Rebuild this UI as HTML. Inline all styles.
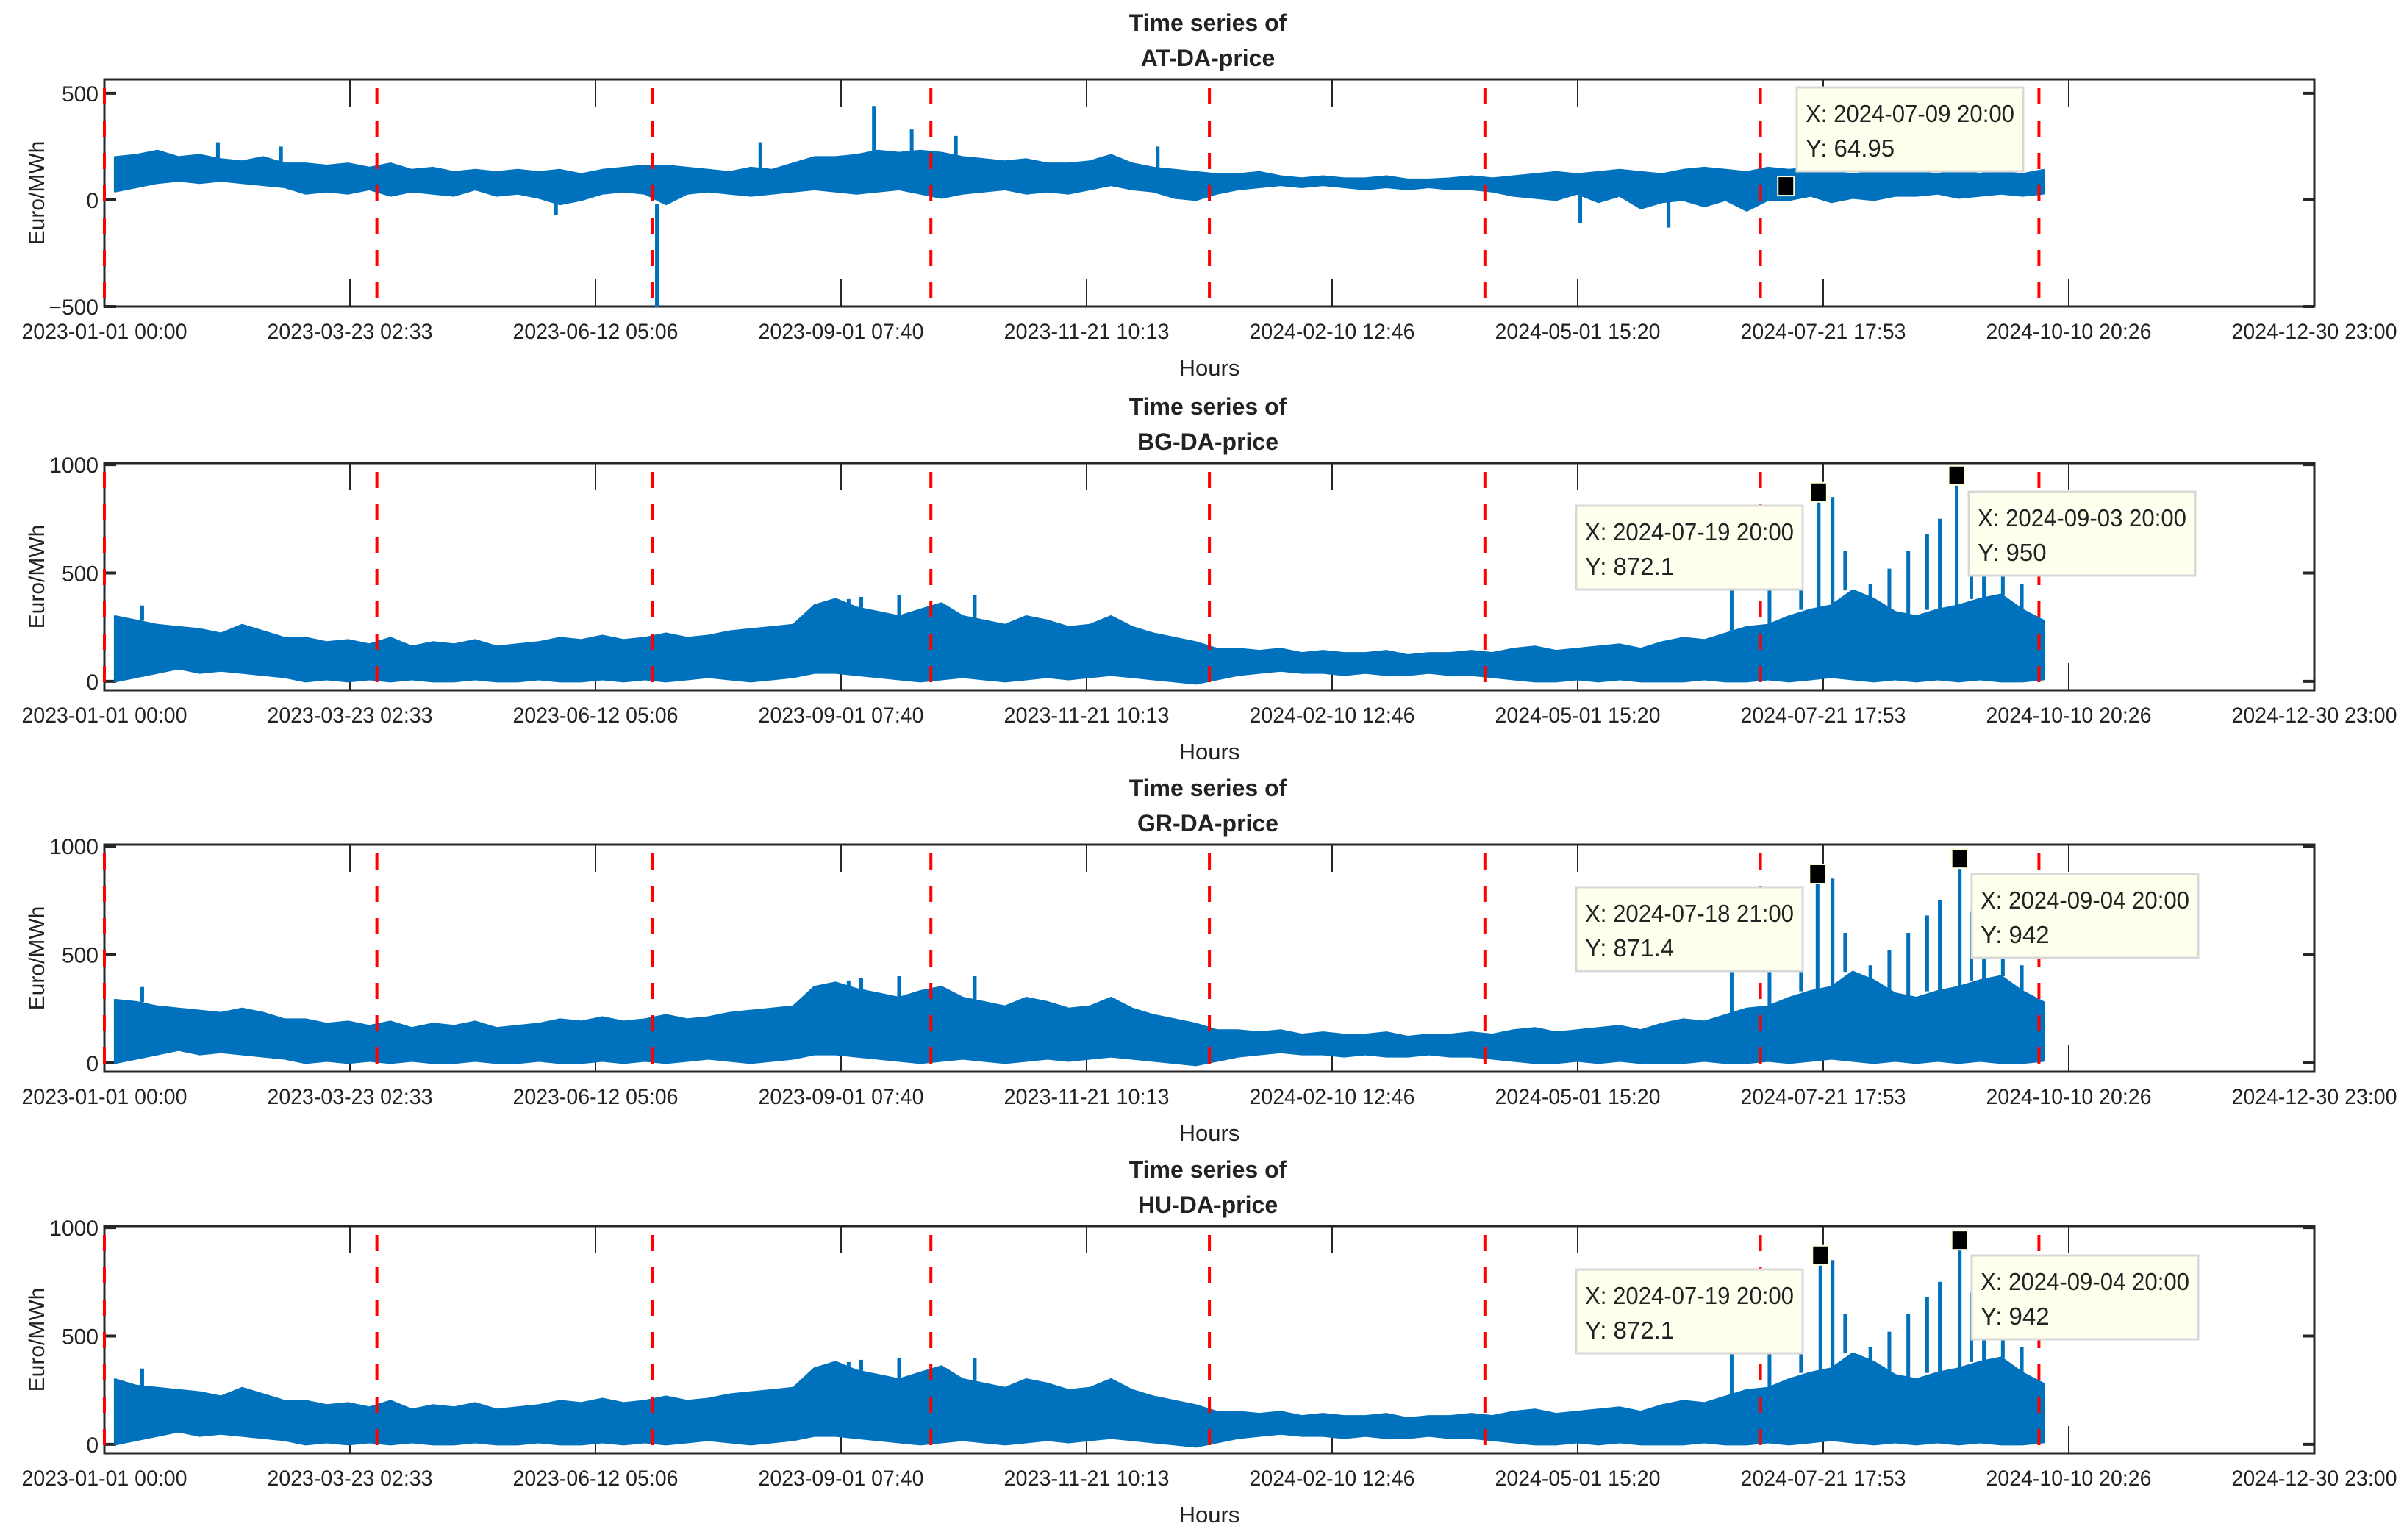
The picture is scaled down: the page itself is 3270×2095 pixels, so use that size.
<!DOCTYPE html>
<html><head><meta charset="utf-8"><style>
html,body{margin:0;padding:0;background:#fff}
svg{display:block}
text{font-family:"Liberation Sans",Arial,sans-serif;fill:#222}
</style></head><body>
<svg id="chart" width="3270" height="2095" viewBox="0 0 3270 2095" xmlns="http://www.w3.org/2000/svg"></svg>
<script>
// ---- data ----
const xTickLabels = ["2023-01-01 00:00","2023-03-23 02:33","2023-06-12 05:06","2023-09-01 07:40","2023-11-21 10:13","2024-02-10 12:46","2024-05-01 15:20","2024-07-21 17:53","2024-10-10 20:26","2024-12-30 23:00"];
const xMaxHours = 17519;
const quarterLines = [0,2160,4344,6552,8760,10944,13128,15336];
const weekHours = 168;
const panelNames = ["AT-DA-price","BG-DA-price","GR-DA-price","HU-DA-price"];
const yTicksAT = [-500,0,500];
const yTicksBG = [0,500,1000];
const AT_up = [200,210,230,200,210,190,180,200,170, 170,160,170,150,170,140,150,130,140, 130,140,130,140,120,140,150,160,160, 150,140,130,150,140,170,200,200,210, 230,220,230,220,200,190,180,190,170, 170,180,210,170,150,140,130,120, 120,130,110,100,110,100,100,110,95,95,100,110,100, 110,120,130,120,130,140,130,120,140,150,140,130,150, 140,150,130,120,130,140,130,120,140,120,130,120,140];
const AT_lo = [40,60,80,90,80,90,80,70,60, 30,40,30,50,20,40,30,20,50, 20,30,10,-20,0,30,40,30,-20, 30,40,30,20,30,40,50,40,30, 40,50,30,10,30,40,50,30,40, 30,50,70,50,40,10,0,30, 50,60,70,60,70,60,50,60,50,60,50,50,40, 20,10,0,30,-10,20,-40,-10,0,-30,0,-50,0, 0,20,-10,10,0,20,20,30,10,20,30,20,30];
const AT_spikeT = [900,1400,4380,3580,5200,6100,6400,6750,8350,11700,12400,14900];
const AT_spikeV = [270,250,-500,-70,270,440,330,300,250,-110,-130,200];
const BG_up = [300,280,260,250,240,220,260,230,200, 200,180,190,170,200,160,180,170,190, 160,170,180,200,190,210,190,200,220, 200,210,230,240,250,260,350,380,340, 320,300,330,360,300,280,260,300,280, 250,260,300,250,220,200,180,150, 150,140,150,130,140,130,130,140,120,130,130,140,130, 150,160,140,150,160,170,150,180,200,190,220,250,260, 300,330,350,420,380,320,300,330,350,380,400,330,280];
const BG_lo = [0,20,40,60,40,50,40,30,20, 0,10,0,10,0,10,0,0,10, 0,0,10,0,0,10,0,10,0, 10,20,10,0,10,20,40,40,30, 20,10,0,10,20,10,0,10,20, 10,20,30,20,10,0,-10,10, 30,40,50,40,40,30,40,30,30,40,30,30,20, 10,0,0,10,0,10,0,0,0,10,0,0,10, 0,10,20,10,0,10,0,10,0,10,0,0,10];
const BG_spikeT = [13590,14684,12900,13200,13450,13700,13800,14000,14150,14300,14450,14550,14800,14900,15050,15200,6000,6900,300,5900,6300];
const BG_spikeV = [872.1,950,420,500,650,850,600,450,520,600,680,750,700,560,500,450,390,400,350,380,400];
const GR_up = [290,280,260,250,240,230,250,230,200, 200,180,190,170,190,160,180,170,190, 160,170,180,200,190,210,190,200,220, 200,210,230,240,250,260,350,370,340, 320,300,330,350,300,280,260,300,280, 250,260,300,250,220,200,180,150, 150,140,150,130,140,130,130,140,120,130,130,140,130, 150,160,140,150,160,170,150,180,200,190,220,250,260, 300,330,350,420,380,320,300,330,350,380,400,330,280];
const GR_lo = [0,20,40,60,40,50,40,30,20, 0,10,0,10,0,10,0,0,10, 0,0,10,0,0,10,0,10,0, 10,20,10,0,10,20,40,40,30, 20,10,0,10,20,10,0,10,20, 10,20,30,20,10,0,-10,10, 30,40,50,40,40,30,40,30,30,40,30,30,20, 10,0,0,10,0,10,0,0,0,10,0,0,10, 0,10,20,10,0,10,0,10,0,10,0,0,10];
const GR_spikeT = [13581,14708,12900,13200,13450,13700,13800,14000,14150,14300,14450,14550,14800,14900,15050,15200,6000,6900,300,5900,6300];
const GR_spikeV = [871.4,942,420,500,650,850,600,450,520,600,680,750,700,560,500,450,390,400,350,380,400];
const HU_up = [300,270,260,250,240,220,260,230,200, 200,180,190,170,200,160,180,170,190, 160,170,180,200,190,210,190,200,220, 200,210,230,240,250,260,350,380,340, 320,300,330,360,300,280,260,300,280, 250,260,300,250,220,200,180,150, 150,140,150,130,140,130,130,140,120,130,130,140,130, 150,160,140,150,160,170,150,180,200,190,220,250,260, 300,330,350,420,380,320,300,330,350,380,400,330,280];
const HU_lo = [0,20,40,60,40,50,40,30,20, 0,10,0,10,0,10,0,0,10, 0,0,10,0,0,10,0,10,0, 10,20,10,0,10,20,40,40,30, 20,10,0,10,20,10,0,10,20, 10,20,30,20,10,0,-10,10, 30,40,50,40,40,30,40,30,30,40,30,30,20, 10,0,0,10,0,10,0,0,0,10,0,0,10, 0,10,20,10,0,10,0,10,0,10,0,0,10];
const HU_spikeT = [13604,14708,12900,13200,13450,13700,13800,14000,14150,14300,14450,14550,14800,14900,15050,15200,6000,6900,300,5900,6300];
const HU_spikeV = [872.1,942,420,500,650,850,600,450,520,600,680,750,700,560,500,450,390,400,350,380,400];
const tipLabelsX = [["X: 2024-07-09 20:00"],["X: 2024-07-19 20:00","X: 2024-09-03 20:00"],["X: 2024-07-18 21:00","X: 2024-09-04 20:00"],["X: 2024-07-19 20:00","X: 2024-09-04 20:00"]];
const tipLabelsY = [["Y: 64.95"],["Y: 872.1","Y: 950"],["Y: 871.4","Y: 942"],["Y: 872.1","Y: 942"]];
const tipT = [[13330],[13590,14684],[13581,14708],[13604,14708]];
const tipV = [[64.95],[872.1,950],[871.4,942],[872.1,942]];

const NS="http://www.w3.org/2000/svg";
const svg=document.getElementById('chart');
function mk(tag,attrs,parent){const e=document.createElementNS(NS,tag);for(const k in attrs)e.setAttribute(k,attrs[k]);(parent||svg).appendChild(e);return e;}

const L=142,R=3148,H=309;
const tops=[108,630,1149,1668];
const ranges=[[-500,565],[-41,1007],[-41,1007],[-41,1007]];
const ups=[AT_up,BG_up,GR_up,HU_up], los=[AT_lo,BG_lo,GR_lo,HU_lo];
const spT=[AT_spikeT,BG_spikeT,GR_spikeT,HU_spikeT], spV=[AT_spikeV,BG_spikeV,GR_spikeV,HU_spikeV];
const yt=[yTicksAT,yTicksBG,yTicksBG,yTicksBG];
const tipBoxes=[[[2444,119]],[[2144,688],[2678,669]],[[2144,1207],[2682,1189]],[[2144,1727],[2682,1708]]];

for(let p=0;p<4;p++){
  const top=tops[p],bot=top+H;
  const g=mk('g',{});
  
  
  const xs=h=>L+(h/xMaxHours)*(R-L);
  const ys=v=>bot-(v-ranges[p][0])/(ranges[p][1]-ranges[p][0])*H;
  const t1=mk('text',{x:1643,y:top-66,'text-anchor':'middle','font-size':32,'font-weight':'bold'},g);t1.textContent='Time series of';
  
  const t2=mk('text',{x:1643,y:top-18,'text-anchor':'middle','font-size':32,'font-weight':'bold'},g);t2.textContent=panelNames[p];
  
  const box=mk('rect',{x:L,y:top,width:R-L,height:H,fill:'#fff',stroke:'#262626','stroke-width':3},g);
  
  xTickLabels.forEach((lab,i)=>{
    const x=L+i*(R-L)/(xTickLabels.length-1);
    const tk=mk('path',{d:`M${x},${top}v37M${x},${bot}v-37`,stroke:'#262626','stroke-width':2},g);
    
    const tx=mk('text',{x:x,y:top+353,'text-anchor':'middle','font-size':30,textLength:225,lengthAdjust:'spacingAndGlyphs'},g);
    tx.textContent=lab;
    
  });
  yt[p].forEach(v=>{
    const y=ys(v);
    const tk=mk('path',{d:`M${L},${y}h16M${R},${y}h-16`,stroke:'#262626','stroke-width':4},g);
    
    const tx=mk('text',{x:L-8,y:y+11,'text-anchor':'end','font-size':30},g);
    tx.textContent=(v<0?'\u2212':'')+Math.abs(v);
    
  });
  const xl=mk('text',{x:1645,y:top+403,'text-anchor':'middle','font-size':31},g);xl.textContent='Hours';
  
  const yl=mk('text',{x:0,y:0,'text-anchor':'middle','font-size':30,transform:`translate(60,${top+H/2}) rotate(-90)`},g);yl.textContent='Euro/MWh';
  
  const up=ups[p],lo=los[p];
  let d='';
  up.forEach((v,i)=>{d+=(i?'L':'M')+xs(i*weekHours+84).toFixed(1)+','+ys(v).toFixed(1);});
  for(let i=lo.length-1;i>=0;i--)d+='L'+xs(i*weekHours+84).toFixed(1)+','+ys(lo[i]).toFixed(1);
  d+='Z';
  const band=mk('path',{d:d,fill:'#0072BD',stroke:'#0072BD','stroke-width':3,'stroke-linejoin':'round'},g);
  
  spT[p].forEach((t,i)=>{
    const wi=Math.min(up.length-1,Math.floor(t/weekHours));
    const base=spV[p][i]<0?lo[wi]:up[wi];
    const sp=mk('line',{x1:xs(t),x2:xs(t),y1:ys(base),y2:ys(spV[p][i]),stroke:'#0072BD','stroke-width':5},g);
    
  });
  quarterLines.forEach(h=>{
    const ql=mk('line',{x1:xs(h),x2:xs(h),y1:top+12,y2:bot,stroke:'#FF0000','stroke-width':4,'stroke-dasharray':'22,22'},g);
    
  });
  tipT[p].forEach((t,i)=>{
    const mx=mk('rect',{x:xs(t)-11,y:ys(tipV[p][i])-13,width:22,height:26,fill:'#000',stroke:'#ffffe0','stroke-width':2},g);
    
    const [bx,by]=tipBoxes[p][i];
    const tb=mk('g',{},g);
    
    mk('rect',{x:bx,y:by,width:308,height:114,fill:'#FFFFEE',stroke:'#d8d8d8','stroke-width':3},tb);
    const a=mk('text',{x:bx+12,y:by+47,'font-size':33,textLength:284,lengthAdjust:'spacingAndGlyphs'},tb);a.textContent=tipLabelsX[p][i];
    
    const b=mk('text',{x:bx+12,y:by+94,'font-size':33},tb);b.textContent=tipLabelsY[p][i];
    
  });
}
</script>
</body></html>
